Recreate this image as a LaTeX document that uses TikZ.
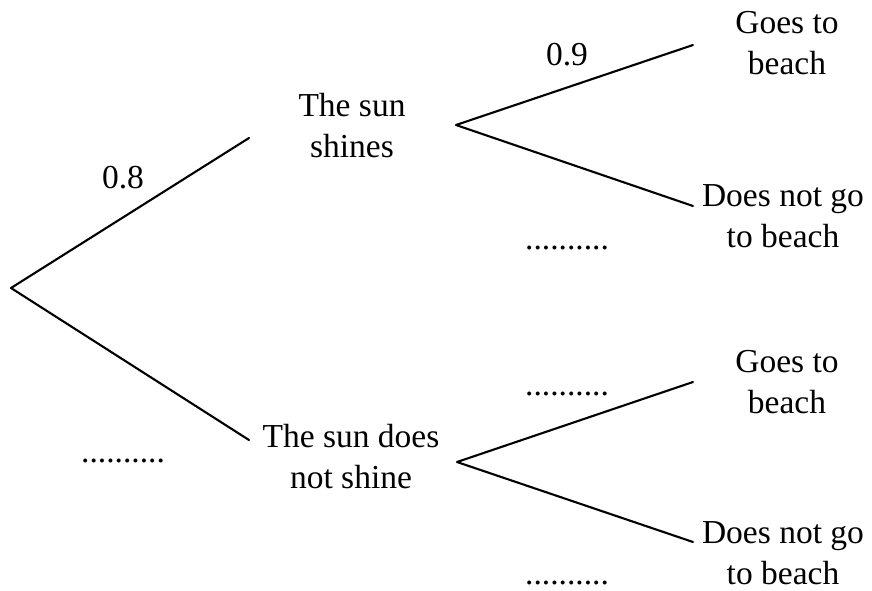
\documentclass[tikz,border=0pt]{standalone}
\usepackage{fontspec}
\setmainfont{Liberation Serif}
\begin{document}
\begin{tikzpicture}[x=1pt,y=-1pt,
  branch/.style={line width=2.1pt, line cap=round, line join=round},
  lbl/.style={align=center, inner sep=0pt, font=\fontsize{33.5}{41}\selectfont},
  prob/.style={anchor=base, inner sep=0pt, font=\fontsize{33.5}{41}\selectfont}]
\useasboundingbox (0,0) rectangle (872,590);
\fill[white] (0,0) rectangle (872,590);
% branch points
\coordinate (root) at (11,288);
\coordinate (sunE) at (249,138);
\coordinate (nosunE) at (249,440);
\coordinate (sunS) at (456,125);
\coordinate (nosunS) at (457,462);
\coordinate (g1) at (693,45);
\coordinate (d1) at (693,206);
\coordinate (g2) at (693,382);
\coordinate (d2) at (693,542);
% branches
\draw[branch] (sunE) -- (root) -- (nosunE);
\draw[branch] (g1) -- (sunS) -- (d1);
\draw[branch] (g2) -- (nosunS) -- (d2);
% outcome labels
\node[lbl] (sun) at (352,129) {\strut The sun\\\strut shines};
\node[lbl] (nosun) at (351,460) {\strut The sun does\\\strut not shine};
\node[lbl] (go1) at (787,46) {\strut Goes to\\\strut beach};
\node[lbl] (no1) at (783,219) {\strut Does not go\\\strut to beach};
\node[lbl] (go2) at (787,385) {\strut Goes to\\\strut beach};
\node[lbl, anchor=base] (no2) at (783,584) {Does not go\\to beach};
% probabilities
\node[prob] (p1) at (123,188) {0.8};
\node[prob] (p2) at (123,462) {..........};
\node[prob] (p3) at (567,65) {0.9};
\node[prob] (p4) at (567,249) {..........};
\node[prob] (p5) at (567,395) {..........};
\node[prob] (p6) at (567,584) {..........};
\end{tikzpicture}
\end{document}
